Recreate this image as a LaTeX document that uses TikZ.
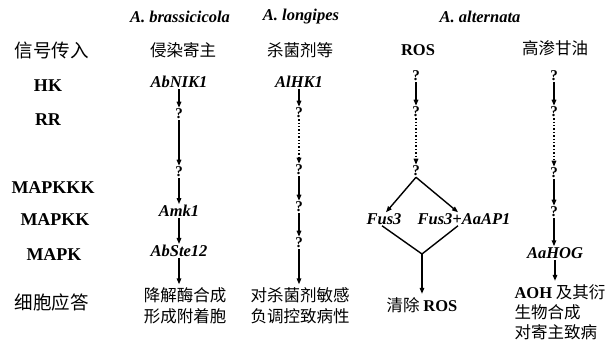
\documentclass[tikz,border=0pt]{standalone}
\usepackage{fontspec}
\setmainfont{Liberation Serif}
\newfontfamily\cjk{Noto Sans CJK SC}
\usetikzlibrary{arrows.meta,calc}
\newcommand{\latbold}[1]{{\rmfamily\bfseries #1}}
\begin{document}
\begin{tikzpicture}[x=1pt,y=-1pt,
 hdr/.style={font=\fontsize{16.5}{20}\selectfont\bfseries\itshape},
 rowlab/.style={font=\fontsize{18}{22}\selectfont\bfseries},
 rowcjk/.style={font=\fontsize{18.5}{22}\selectfont\cjk},
 gene/.style={font=\fontsize{16.5}{20}\selectfont\bfseries\itshape, inner sep=1pt},
 qm/.style={font=\fontsize{15}{17}\selectfont\bfseries, inner sep=1pt},
 cjktxt/.style={font=\fontsize{16.5}{21}\selectfont\cjk, align=center},
 latb/.style={font=\fontsize{16.5}{21}\selectfont\bfseries},
 arr/.style={-{Triangle[length=6pt,width=4.5pt]}, line width=1.4pt},
 darr/.style={arr, dotted},
 plain/.style={line width=1.4pt},
]
\useasboundingbox (0,0) rectangle (614,341);
% headers
\node[hdr] (hb) at (180,17) {A. brassicicola};
\node[hdr] (hl) at (301,17) {A. longipes};
\node[hdr] (ha) at (480,17) {A. alternata};
% row labels
\node[rowcjk] (r0) at (52,50) {信号传入};
\node[rowlab] (r1) at (48,86) {HK};
\node[rowlab] (r2) at (48,120) {RR};
\node[rowlab] (r3) at (53,188) {MAPKKK};
\node[rowlab] (r4) at (55,220) {MAPKK};
\node[rowlab] (r5) at (54,255) {MAPK};
\node[rowcjk] (r6) at (52,302) {细胞应答};
% column 1
\node[cjktxt] (c1s) at (183,50) {侵染寄主};
\node[gene] (c1a) at (179,82) {AbNIK1};
\node[qm] (c1b) at (179,114) {?};
\node[qm] (c1c) at (179,172) {?};
\node[gene] (c1d) at (179,211) {Amk1};
\node[gene] (c1e) at (179,251) {AbSte12};
\node[cjktxt] (c1f) at (185,306) {降解酶合成\\形成附着胞};
\draw[arr] (c1a) -- (c1b);
\draw[arr] (c1b) -- (c1c);
\draw[arr] (c1c) -- (c1d);
\draw[arr] (c1d) -- (c1e);
\draw[arr] (c1e) -- (c1e |- c1f.north);
% column 2
\node[cjktxt] (c2s) at (300,50) {杀菌剂等};
\node[gene] (c2a) at (299,82) {AlHK1};
\node[qm] (c2b) at (299,113) {?};
\node[qm] (c2c) at (299,170) {?};
\node[qm] (c2d) at (299,207) {?};
\node[qm] (c2e) at (299,243) {?};
\node[cjktxt] (c2f) at (300,306) {对杀菌剂敏感\\负调控致病性};
\draw[arr] (c2a) -- (c2b);
\draw[darr] (c2b) -- (c2c);
\draw[arr] (c2c) -- (c2d);
\draw[arr] (c2d) -- (c2e);
\draw[arr] (c2e) -- (c2e |- c2f.north);
% column 3
\node[latb] (c3s) at (418,50) {ROS};
\node[qm] (c3a) at (416,76) {?};
\node[qm] (c3b) at (416,112) {?};
\node[qm] (c3c) at (416,171) {?};
\node[gene] (f1) at (384,219) {Fus3};
\node[gene] (f2) at (464,219) {Fus3+AaAP1};
\coordinate (vb) at (422,254);
\node[cjktxt] (c3f) at (422,305) {清除 \latbold{ROS}};
\draw[arr] (c3a) -- (c3b);
\draw[darr] (c3b) -- (c3c);
\draw[arr] (c3c.south) -- ($(f1.north)+(2,0)$);
\draw[arr] (c3c.south) -- ($(f2.north)+(-6,0)$);
\draw[plain] ($(f1.south)+(-2,0)$) -- (vb) -- ($(f2.south)+(-6,0)$);
\draw[arr] (vb) -- (vb |- c3f.north);
% column 4
\node[cjktxt] (c4s) at (555,48) {高渗甘油};
\node[qm] (c4a) at (554,76) {?};
\node[qm] (c4b) at (554,112) {?};
\node[qm] (c4c) at (554,173) {?};
\node[qm] (c4d) at (554,212) {?};
\node[gene] (c4e) at (555,253) {AaHOG};
\node[cjktxt, anchor=west, align=left, font=\fontsize{16.5}{20}\selectfont\cjk] (c4f) at (511,312) {\latbold{AOH} 及其衍\\生物合成\\对寄主致病};
\draw[arr] (c4a) -- (c4b);
\draw[darr] (c4b) -- (c4c);
\draw[arr] (c4c) -- (c4d);
\draw[arr] (c4d) -- (c4d |- c4e.north);
\draw[arr] (c4e) -- (c4e |- c4f.north);
\end{tikzpicture}
\end{document}
